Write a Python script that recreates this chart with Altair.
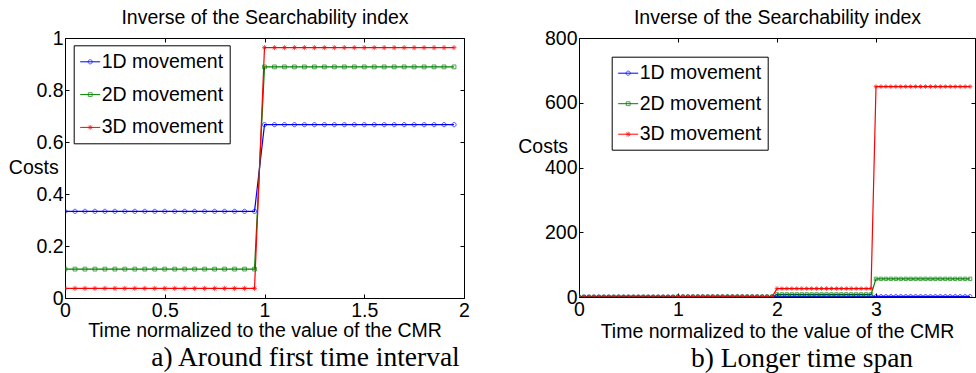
import altair as alt
import pandas as pd

SERIES = ["1D movement", "2D movement", "3D movement"]
MARK_KEYS = ["1D", "2D", "3D"]
COLORS = ["#0000ff", "#008000", "#ff0000"]

# sample offsets inside each unit time interval
OFFSETS = [0.00, 0.05, 0.10, 0.15, 0.20, 0.25, 0.30, 0.35, 0.40, 0.45,
           0.50, 0.55, 0.60, 0.65, 0.70, 0.75, 0.80, 0.85, 0.90, 0.95]

# panel a) around first time interval
A_STARTS = [0, 1]
A_1D = [0.3333, 0.6667]
A_2D = [0.1111, 0.8889]
A_3D = [0.0370, 0.9630]

# panel b) longer time span
B_STARTS = [0, 1, 2, 3]
B_1D = [0.3333, 0.6667, 2, 2]
B_2D = [0.1111, 0.8889, 8, 56]
B_3D = [0.0370, 0.9630, 26, 650]

A_XTICKS = [0, 0.5, 1, 1.5, 2]
A_YTICKS = [0, 0.2, 0.4, 0.6, 0.8, 1]
B_XTICKS = [0, 1, 2, 3, 4]
B_YTICKS = [0, 200, 400, 600, 800]

TITLE = "Inverse of the Searchability index"
XTITLE = "Time normalized to the value of the CMR"
YTITLE = "Costs"
CAP_A = "a) Around first time interval"
CAP_B = "b) Longer time span"

MARKERS = [
    "M-0.21,0A0.21,0.21,0,1,0,0.21,0A0.21,0.21,0,1,0,-0.21,0",
    "M-0.19,-0.19H0.19V0.19H-0.19Z",
    "M-0.25,0H0.25M0,-0.25V0.25M-0.18,-0.18L0.18,0.18M-0.18,0.18L0.18,-0.18",
]

FONT = "Liberation Sans"
FS = 19.5


def build(starts, levels):
    rows = []
    for name, key, lv in zip(SERIES, MARK_KEYS, levels):
        for s, v in zip(starts, lv):
            for o in OFFSETS:
                rows.append({"t": s + o, "v": v, "series": name, "mk": key})
    return pd.DataFrame(rows)


def panel(df, xdom, ydom, xticks, yticks, width, height, leg_x, leg_y, rowpad,
          msize, costs_x, costs_y, xt_y, caption, cap_dx, hide_last=False):
    xs = alt.Scale(domain=xdom, nice=False, zero=False)
    ys = alt.Scale(domain=ydom, nice=False, zero=False)
    cs = alt.Scale(domain=SERIES, range=COLORS)
    base = alt.Chart(df)
    bottom_kw = dict(orient="bottom", values=xticks, format="~r", labelFlush=False,
                     offset=-4, tickSize=4, labelPadding=3, title=XTITLE,
                     titleX=width / 2, titleY=xt_y, titleAlign="center",
                     titleBaseline="alphabetic", titleAnchor="start")
    if hide_last:
        bottom_kw["labelExpr"] = "datum.value == %s ? '' : datum.label" % xticks[-1]
    common_leg = dict(title=None, orient="none", legendX=leg_x, legendY=leg_y,
                      padding=6, cornerRadius=0, rowPadding=rowpad, symbolSize=400,
                      symbolStrokeWidth=1, symbolFillColor="transparent",
                      labelOffset=1, labelFont=FONT, labelFontSize=FS,
                      labelLimit=300)
    leg_lines = alt.Legend(strokeColor="black", fillColor="white",
                           symbolType="stroke", labelColor="black", zindex=0,
                           **common_leg)
    leg_marks = alt.Legend(labelExpr="''", zindex=1, **common_leg)
    lines = base.mark_line(strokeWidth=1.2, clip=True).encode(
        x=alt.X("t:Q", scale=xs, axis=alt.Axis(**bottom_kw)),
        y=alt.Y("v:Q", scale=ys, axis=alt.Axis(
            orient="left", values=yticks, format="~r", offset=-4, tickSize=4,
            labelPadding=2, title=YTITLE, titleAngle=0, titleX=costs_x,
            titleY=costs_y, titleAlign="left", titleBaseline="alphabetic",
            titleAnchor="start")),
        color=alt.Color("series:N", scale=cs, legend=leg_lines),
    )
    ms = alt.Scale(domain=MARK_KEYS, range=COLORS)
    pts = base.mark_point(filled=False, size=msize, strokeWidth=1, clip=True).encode(
        x=alt.X("t:Q", scale=xs, axis=alt.Axis(
            orient="top", values=xticks, labels=False, offset=-4, tickSize=4,
            title=TITLE, titleX=width / 2, titleY=-18.3, titleAlign="center",
            titleBaseline="alphabetic", titleAnchor="start")),
        y=alt.Y("v:Q", scale=ys, axis=alt.Axis(
            orient="right", values=yticks, labels=False, offset=-4, tickSize=4,
            title=None)),
        stroke=alt.Stroke("mk:N", scale=ms, legend=leg_marks),
        shape=alt.Shape("mk:N", scale=alt.Scale(domain=MARK_KEYS, range=MARKERS),
                        legend=leg_marks),
    )
    return alt.layer(lines, pts).properties(
        width=width, height=height,
        title=alt.TitleParams(caption, orient="bottom", font="Liberation Serif",
                              fontSize=27.5, fontWeight="normal", color="black",
                              baseline="alphabetic", dx=cap_dx, offset=26),
    )


df_a = build(A_STARTS, [A_1D, A_2D, A_3D])
df_b = build(B_STARTS, [B_1D, B_2D, B_3D])

left = panel(df_a, [0, 2], [0, 1], A_XTICKS, A_YTICKS, 399, 260,
             8.7, 7.3, 12.8, 400, -60.7, 135.7, 42.7, CAP_A, 41)
right = panel(df_b, [0, 4], [0, 800], B_XTICKS, B_YTICKS, 396, 259,
              32.7, 18.7, 10.5, 320, -65.3, 114.7, 44, CAP_B, 25, hide_last=True)

chart = alt.hconcat(left, right, spacing=115, bounds="flush").resolve_scale(
    color="independent", stroke="independent", shape="independent"
).properties(
    padding={"left": 7, "top": 7, "right": 0, "bottom": 0},
    background="white",
).configure_view(
    stroke="black", strokeWidth=1
).configure_axis(
    domain=False, grid=False, tickColor="black", labelColor="black",
    labelFont=FONT, labelFontSize=FS, titleFont=FONT, titleFontSize=FS,
    titleFontWeight="normal", titleColor="black", labelOverlap=False
)

chart.save("out.html", embed_options={"renderer": "svg", "actions": False})
